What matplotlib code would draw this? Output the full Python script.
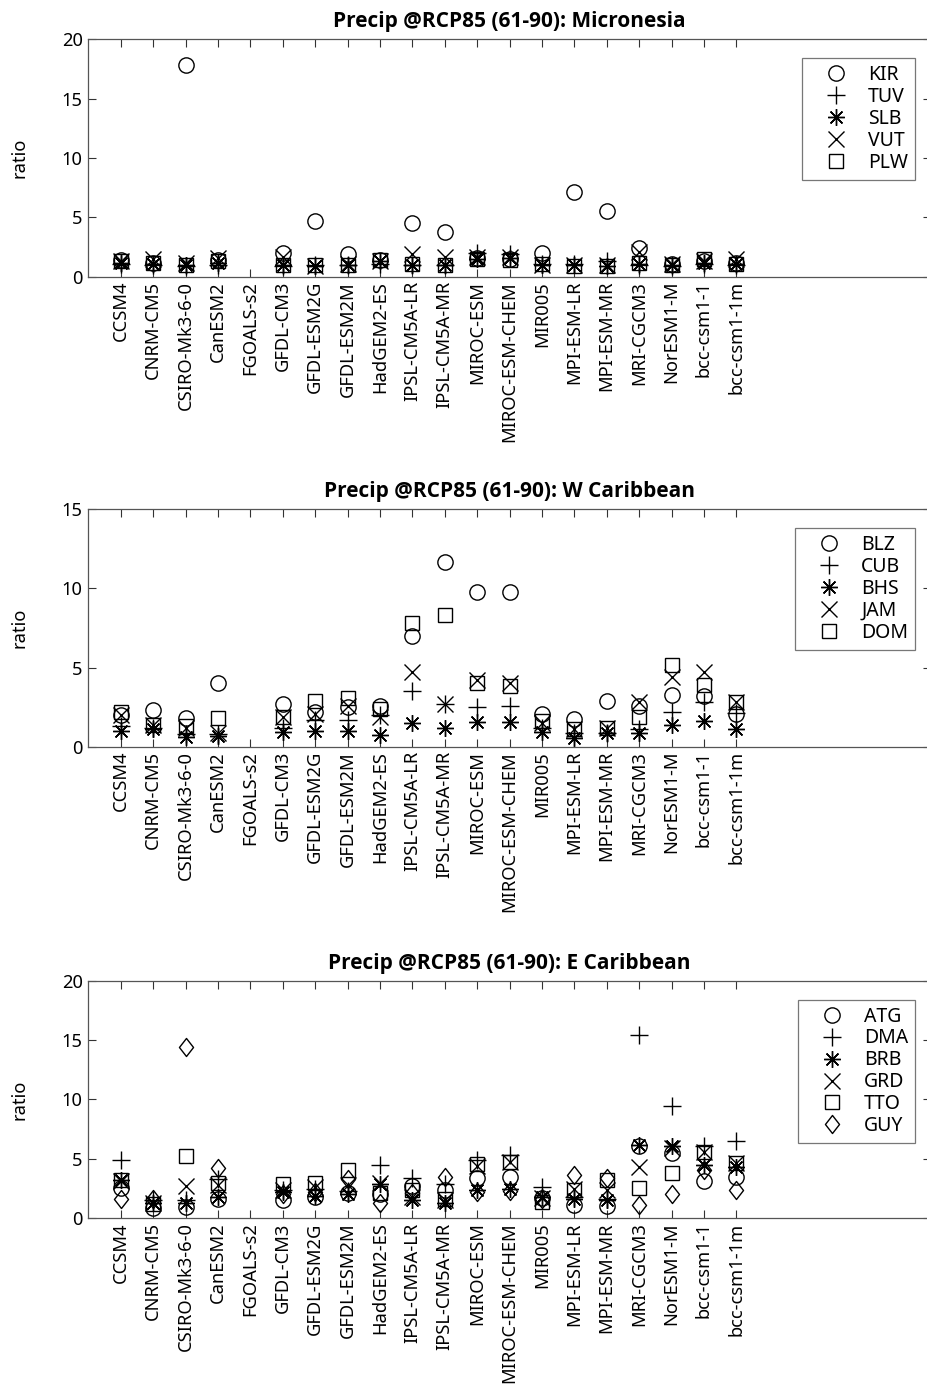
import numpy as np
import matplotlib
matplotlib.use("Agg")
import matplotlib.pyplot as plt
from matplotlib.path import Path

plt.rcParams['font.family'] = ['Noto Sans', 'DejaVu Sans']

nan = np.nan

models = ["CCSM4", "CNRM-CM5", "CSIRO-Mk3-6-0", "CanESM2", "FGOALS-s2",
          "GFDL-CM3", "GFDL-ESM2G", "GFDL-ESM2M", "HadGEM2-ES", "IPSL-CM5A-LR",
          "IPSL-CM5A-MR", "MIROC-ESM", "MIROC-ESM-CHEM", "MIR005", "MPI-ESM-LR",
          "MPI-ESM-MR", "MRI-CGCM3", "NorESM1-M", "bcc-csm1-1", "bcc-csm1-1m"]

# Micronesia
KIR = [1.4, 1.2, 17.8, 1.4, nan, 2.0, 4.7, 1.9, 1.4, 4.5, 3.8, 1.6, 1.5, 2.0, 7.1, 5.5, 2.4, 1.1, 1.3, 1.2]
TUV = [1.1, 1.0, 0.9, 1.0, nan, 0.9, 1.0, 1.0, 1.1, 1.0, 1.0, 2.0, 1.9, 1.1, 1.1, 1.3, 1.0, 0.9, 1.1, 1.0]
SLB = [1.2, 1.1, 1.0, 1.2, nan, 1.0, 0.9, 1.0, 1.3, 1.0, 1.0, 1.5, 1.6, 1.0, 1.0, 0.9, 1.1, 1.0, 1.2, 1.1]
VUT = [1.3, 1.5, 1.2, 1.6, nan, 1.7, 0.9, 1.1, 1.3, 1.9, 1.7, 1.7, 1.7, 1.0, 1.0, 1.0, 2.1, 1.1, 1.3, 1.5]
PLW = [1.3, 1.2, 1.0, 1.3, nan, 1.0, 1.0, 1.0, 1.4, 1.1, 1.0, 1.5, 1.4, 1.1, 0.9, 0.9, 1.2, 1.0, 1.5, 1.1]

# W Caribbean
BLZ = [2.0, 2.3, 1.8, 4.0, nan, 2.7, 2.2, 2.5, 2.6, 7.0, 11.65, 9.75, 9.75, 2.1, 1.75, 2.9, 2.55, 3.25, 3.2, 2.1]
CUB = [1.3, 1.2, 0.8, 0.8, nan, 1.2, 1.7, 1.7, 2.0, 3.5, 2.7, 2.5, 2.55, 1.2, 0.85, 0.85, 1.15, 2.2, 2.8, 2.15]
BHS = [1.0, 1.1, 0.6, 0.7, nan, 0.95, 1.0, 1.0, 0.75, 1.5, 1.2, 1.55, 1.55, 0.95, 0.55, 0.85, 0.9, 1.4, 1.6, 1.1]
JAM = [2.0, 1.4, 1.2, 0.9, nan, 1.9, 2.1, 2.6, 1.9, 4.75, 2.7, 4.2, 4.05, 1.5, 1.1, 1.2, 2.85, 4.4, 4.75, 2.8]
DOM = [2.2, 1.4, 1.3, 1.8, nan, 1.9, 2.9, 3.1, 2.4, 7.8, 8.3, 4.0, 3.85, 1.6, 1.15, 1.2, 1.9, 5.15, 3.9, 2.85]

# E Caribbean
ATG = [2.55, 0.9, 0.95, 1.6, nan, 1.5, 1.8, 2.1, 2.0, 2.7, 2.4, 3.4, 3.5, 1.7, 1.1, 1.0, 6.05, 5.5, 3.1, 3.5]
DMA = [4.9, 1.5, 1.55, 3.3, nan, 2.4, 2.5, 2.3, 4.5, 3.4, 2.9, 4.9, 5.3, 2.6, 1.8, 1.6, 15.4, 9.45, 6.05, 6.5]
BRB = [3.2, 1.3, 1.3, 1.8, nan, 2.2, 1.9, 2.0, 2.9, 1.5, 1.3, 2.4, 2.5, 1.8, 1.6, 1.5, 6.2, 6.1, 4.5, 4.35]
GRD = [3.1, 1.3, 2.7, 2.8, nan, 2.4, 2.6, 2.8, 3.0, 1.8, 1.5, 4.4, 4.7, 1.7, 2.5, 2.4, 4.35, 5.9, 5.55, 4.65]
TTO = [3.25, 1.2, 5.2, 3.0, nan, 2.9, 3.0, 4.1, 2.1, 2.4, 1.6, 4.6, 4.7, 1.4, 2.4, 3.2, 2.55, 3.8, 5.55, 4.65]
GUY = [1.6, 1.6, 14.4, 4.2, nan, 2.0, 2.2, 3.3, 1.3, 2.1, 3.5, 2.2, 2.3, 1.6, 3.6, 3.4, 1.15, 2.0, 4.1, 2.4]

titles = ["Precip @RCP85 (61-90): Micronesia",
          "Precip @RCP85 (61-90): W Caribbean",
          "Precip @RCP85 (61-90): E Caribbean"]
ylims = [20, 15, 20]

diamond = Path([(0, 1), (0.78, 0), (0, -1), (-0.78, 0), (0, 1)],
               [Path.MOVETO, Path.LINETO, Path.LINETO, Path.LINETO, Path.CLOSEPOLY])

# marker style and size for each symbol
sym = {
    'o': dict(marker='o', ms=11),
    '+': dict(marker='+', ms=13),
    '*': dict(marker=(8, 2, 0), ms=12),
    'x': dict(marker='x', ms=11),
    's': dict(marker='s', ms=9.5),
    'd': dict(marker=diamond, ms=13),
}

panels = [
    [("KIR", KIR, 'o'), ("TUV", TUV, '+'), ("SLB", SLB, '*'), ("VUT", VUT, 'x'), ("PLW", PLW, 's')],
    [("BLZ", BLZ, 'o'), ("CUB", CUB, '+'), ("BHS", BHS, '*'), ("JAM", JAM, 'x'), ("DOM", DOM, 's')],
    [("ATG", ATG, 'o'), ("DMA", DMA, '+'), ("BRB", BRB, '*'), ("GRD", GRD, 'x'), ("TTO", TTO, 's'), ("GUY", GUY, 'd')],
]

W, H = 928, 1388
fig = plt.figure(figsize=(W / 100, H / 100), dpi=100)

left_px, right_px = 88.3, 930.7
tops = [39.3, 509.3, 980.7]
ax_h = 237.5
x = np.arange(1, len(models) + 1)
FS = 13.2

for k, (series, title, ymax, top) in enumerate(zip(panels, titles, ylims, tops)):
    ax = fig.add_axes([left_px / W, (H - top - ax_h) / H,
                       (right_px - left_px) / W, ax_h / H])
    for name, vals, m in series:
        st = sym[m]
        ax.plot(x, vals, linestyle='none', marker=st['marker'], markersize=st['ms'],
                markerfacecolor='none', markeredgecolor='black', color='black',
                markeredgewidth=1.0, label=name, clip_on=False)
    ax.set_xlim(0, 26)
    ax.set_ylim(0, ymax)
    ax.set_xticks(x)
    ax.set_xticklabels(models, rotation=90, fontsize=FS)
    ax.set_yticks(np.arange(0, ymax + 1, 5))
    ax.tick_params(axis='both', direction='in', top=True, right=True,
                   length=5.5, width=0.8, colors='#333333', labelcolor='black',
                   labelsize=FS, pad=4)
    ax.tick_params(axis='x', pad=3)
    for sp in ax.spines.values():
        sp.set_linewidth(0.9)
        sp.set_color('#555555')
    ax.set_ylabel("ratio", fontsize=FS, labelpad=24)
    ax.set_title(title, fontsize=15, fontweight='bold', pad=8.5,
                 family=['Open Sans', 'Lato', 'DejaVu Sans'])
    leg = ax.legend(loc='upper right', bbox_to_anchor=(0.9814, 0.92),
                    frameon=True, fancybox=False, edgecolor='#555555',
                    fontsize=14, handletextpad=0.25, labelspacing=0.1,
                    borderpad=0.35, handlelength=2.8, borderaxespad=0)
    leg.get_frame().set_linewidth(0.9)

fig.savefig("out.png", dpi=100)
